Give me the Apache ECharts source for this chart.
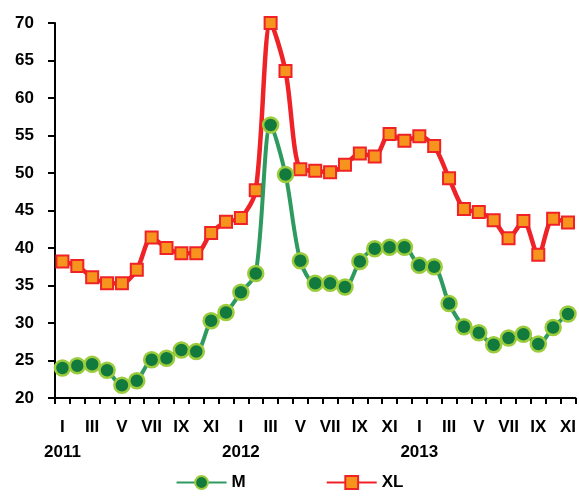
<!DOCTYPE html>
<html>
<head>
<meta charset="utf-8">
<script src="https://cdn.jsdelivr.net/npm/echarts@6/dist/echarts.min.js"></script>
<style>
  html, body { margin: 0; padding: 0; background: #fff; }
  #chart { width: 579px; height: 498px; }
</style>
</head>
<body>
<div id="chart"></div>
<script>
// Monthly categories, January 2011 to November 2013
const months = ['I','II','III','IV','V','VI','VII','VIII','IX','X','XI','XII',
                'I','II','III','IV','V','VI','VII','VIII','IX','X','XI','XII',
                'I','II','III','IV','V','VI','VII','VIII','IX','X','XI'];
const years = { 0: '2011', 12: '2012', 24: '2013' };

const seriesM = [24.0, 24.3, 24.5, 23.7, 21.7, 22.3, 25.1, 25.3, 26.4, 26.2, 30.3, 31.4,
                 34.1, 36.6, 56.4, 49.8, 38.3, 35.3, 35.3, 34.8, 38.2, 39.9, 40.1, 40.1,
                 37.7, 37.5, 32.6, 29.5, 28.7, 27.1, 28.0, 28.5, 27.2, 29.4, 31.2];
const seriesXL = [38.2, 37.6, 36.1, 35.3, 35.3, 37.1, 41.4, 40.0, 39.3, 39.3, 42.0, 43.5,
                  44.0, 47.7, 70.0, 63.6, 50.5, 50.3, 50.1, 51.1, 52.6, 52.2, 55.2, 54.3,
                  54.9, 53.6, 49.3, 45.2, 44.8, 43.7, 41.3, 43.6, 39.1, 43.9, 43.4];
const yTicks = { min: 20, max: 70, step: 5 };

const chart = echarts.init(document.getElementById('chart'));
const fontFamily = 'Liberation Sans, Arial, sans-serif';

chart.setOption({
  animation: false,
  grid: { left: 55, right: 0, top: 23, bottom: 100 },
  legend: {
    bottom: 2,
    left: 'center',
    itemWidth: 50,
    itemHeight: 16,
    itemGap: 80,
    textStyle: { fontFamily: fontFamily, fontWeight: 'bold', fontSize: 17, color: '#000' },
    data: ['M', 'XL']
  },
  xAxis: {
    type: 'category',
    data: months,
    axisLine: { show: true, lineStyle: { color: '#000', width: 2 } },
    axisTick: { show: true, interval: 0, length: 6, lineStyle: { color: '#000', width: 2 } },
    axisLabel: {
      fontFamily: fontFamily, fontWeight: 'bold', fontSize: 17, color: '#000',
      interval: 1,
      margin: 17,
      lineHeight: 25,
      formatter: (v, i) => years[i] ? v + '\n' + years[i] : v
    },
    splitLine: { show: false }
  },
  yAxis: {
    type: 'value',
    min: yTicks.min,
    max: yTicks.max,
    interval: yTicks.step,
    axisLine: { show: true, lineStyle: { color: '#000', width: 2 } },
    axisTick: { show: true, length: 7, lineStyle: { color: '#000', width: 2 } },
    axisLabel: { fontFamily: fontFamily, fontWeight: 'bold', fontSize: 17, color: '#000', margin: 21 },
    splitLine: { show: false }
  },
  series: [
    {
      name: 'M',
      type: 'line',
      data: seriesM,
      smooth: 0.3,
      showAllSymbol: true,
      symbol: 'circle',
      symbolSize: 15,
      lineStyle: { color: '#2e9a60', width: 4 },
      itemStyle: { color: '#117a3c', borderColor: '#9ccc3c', borderWidth: 2.5 },
      z: 3
    },
    {
      name: 'XL',
      type: 'line',
      data: seriesXL,
      smooth: 0.3,
      showAllSymbol: true,
      symbol: 'rect',
      symbolSize: 12,
      lineStyle: { color: '#ee2227', width: 4.5 },
      itemStyle: { color: '#f7941d', borderColor: '#ee2227', borderWidth: 2 },
      z: 2
    }
  ]
});
</script>
</body>
</html>
